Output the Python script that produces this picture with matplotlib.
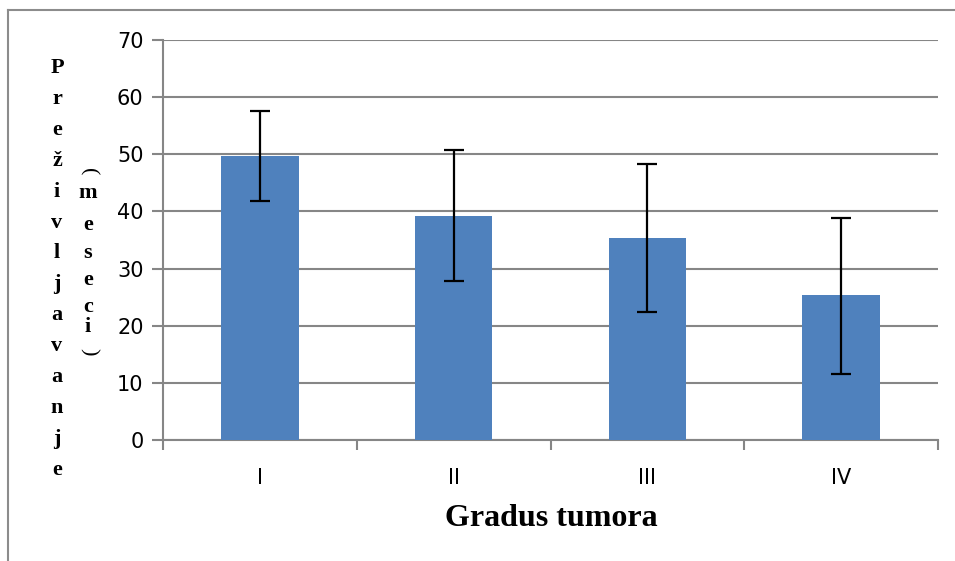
import matplotlib
matplotlib.use("Agg")
import matplotlib.pyplot as plt
from matplotlib.lines import Line2D
import numpy as np

categories = ["I", "II", "III", "IV"]
means = [49.7, 39.2, 35.4, 25.3]
lower = [41.8, 27.8, 22.4, 11.6]
upper = [57.5, 50.7, 48.3, 38.9]
yticks = [0, 10, 20, 30, 40, 50, 60, 70]
ylabel1 = "Preživljavanje"
ylabel2 = "meseci"
xlabel = "Gradus tumora"

W, H = 955, 561
fig = plt.figure(figsize=(W / 100, H / 100), dpi=100)
ax = fig.add_axes([163 / W, 1 - 440 / H, (938 - 163) / W, (440 - 40) / H])

x = np.arange(len(categories))
err = [np.array(means) - np.array(lower), np.array(upper) - np.array(means)]
ax.bar(x, means, width=0.4, color="#4F81BD", zorder=3)
ax.errorbar(x, means, yerr=err, fmt="none", ecolor="black", elinewidth=1.6,
            capsize=7, capthick=1.6, zorder=4)

ax.set_xlim(-0.5, len(categories) - 0.5)
ax.set_ylim(0, 70)
ax.set_yticks(yticks)
ax.set_yticklabels([str(v) for v in yticks], fontsize=15, family="DejaVu Sans")
ax.set_xticks(x)
ax.set_xticklabels(categories, fontsize=15, family="DejaVu Sans")
ax.set_xticks(np.arange(-0.5, len(categories)), minor=True)
ax.tick_params(axis="x", which="major", length=0, pad=20)
ax.tick_params(axis="x", which="minor", length=7, width=1.5, color="#868686")
ax.tick_params(axis="y", length=8, width=1.5, color="#868686", pad=6)

ax.yaxis.grid(True, color="#868686", linewidth=1.5, zorder=0)
ax.set_axisbelow(True)
for s in ["top", "right"]:
    ax.spines[s].set_visible(False)
for s in ["left", "bottom"]:
    ax.spines[s].set_color("#868686")
    ax.spines[s].set_linewidth(1.5)

# Stacked vertical y-label
def fy(py):
    return 1 - py / H

y0, step = 68, 30.9
for i, ch in enumerate(ylabel1):
    fig.text(57 / W, fy(y0 + i * step), ch, ha="center", va="center",
             fontsize=16, fontweight="bold", family="Liberation Serif")

col2_y = [193, 225, 253, 280, 307, 327]
for ch, py in zip(ylabel2, col2_y):
    fig.text(88 / W, fy(py), ch, ha="center", va="center",
             fontsize=16, fontweight="bold", family="Liberation Serif")
fig.text(88 / W, fy(172), "(", ha="center", va="center", rotation=-90,
         fontsize=16, family="Liberation Serif")
fig.text(88 / W, fy(352), ")", ha="center", va="center", rotation=-90,
         fontsize=16, family="Liberation Serif")

fig.text(551 / W, fy(519), xlabel, ha="center", va="center",
         fontsize=23, fontweight="bold", family="Liberation Serif")

# Outer frame (top and left visible)
fig.add_artist(Line2D([8 / W, 1.0], [fy(10), fy(10)], transform=fig.transFigure,
                      color="#8c8c8c", linewidth=1.5))
fig.add_artist(Line2D([8 / W, 8 / W], [fy(10), 0.0], transform=fig.transFigure,
                      color="#8c8c8c", linewidth=1.5))

fig.savefig("out.png", dpi=100)
